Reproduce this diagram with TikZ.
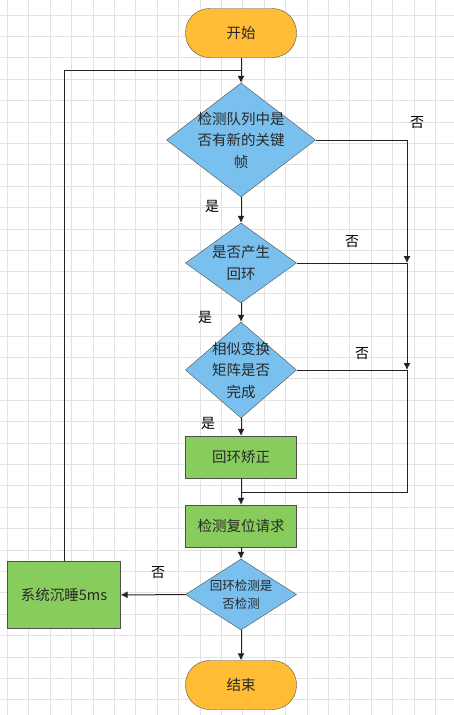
\documentclass[tikz,border=0pt]{standalone}
\usepackage{fontspec}
\setmainfont{Noto Sans CJK SC}
\usepackage{xcolor}
\usepackage{tikz}
\usetikzlibrary{positioning}
\usetikzlibrary{calc}
\usetikzlibrary{shapes.geometric}
\usetikzlibrary{arrows.meta}

\begin{document}
\begin{tikzpicture}
    [%%%%%%%%%%%%%%%%%%%%%%%%%%%%%%
        x=1pt, y=-1pt,
        gridline/.style={draw=gridgray, line width=0.8pt},
        terminal/.style={rectangle, rounded corners=24pt, draw=edgegray, fill=termorange, text=textdark, minimum width=111pt, minimum height=49pt, font=\fontsize{14.5pt}{17pt}\selectfont},
        decision/.style={diamond, draw=edgegray, fill=decblue, text=textdark, align=center, inner sep=0pt, font=\fontsize{14.5pt}{21.5pt}\selectfont},
        process/.style={rectangle, draw=edgegray, fill=procgreen, text=textdark, minimum width=111pt, minimum height=42pt, font=\fontsize{14.5pt}{17pt}\selectfont},
        flow/.style={draw=linedark, line width=1pt},
        arr/.style={flow, -{Latex[length=7pt,width=7pt]}},
        tag/.style={text=black, font=\fontsize{14pt}{17pt}\selectfont}
    ]%%%%%%%%%%%%%%%%%%%%%%%%%%%%%%
\definecolor{gridgray}{RGB}{226,226,226}
\definecolor{edgegray}{RGB}{80,80,80}
\definecolor{termorange}{RGB}{255,188,52}
\definecolor{decblue}{RGB}{122,192,238}
\definecolor{procgreen}{RGB}{137,204,94}
\definecolor{textdark}{RGB}{40,40,40}
\definecolor{linedark}{RGB}{34,34,34}

\fill[white] (0,0) rectangle (454,715);
\useasboundingbox (0,0) rectangle (454,715);
\foreach \i in {0,1,...,20}{
    \draw[gridline] ({7.3+21.4*\i},0) -- ++(0,715);
}
\foreach \j in {0,1,...,32}{
    \draw[gridline] (0,{15+21.4*\j}) -- ++(454,0);
}

\node[terminal] (start) at (241,33){开始};
\node[decision, minimum width=149pt, minimum height=114pt, aspect=1.31, inner sep=-3pt] (newkf) at (241,140){检测队列中是\\否有新的关键\\帧};
\node[decision, minimum width=111pt, minimum height=80pt, aspect=1.39] (loopq) at (241,263){是否产生\\回环};
\node[decision, minimum width=111pt, minimum height=96pt, aspect=1.16, inner sep=-4pt] (simq) at (241,370){相似变换\\矩阵是否\\完成};
\node[process] (fix) at (241,457){回环矫正};
\node[process] (reset) at (241,526){检测复位请求};
\node[decision, minimum width=111pt, minimum height=71pt, aspect=1.56, font=\fontsize{12.5pt}{18.5pt}\selectfont] (doneq) at (241,594.5){回环检测是\\否检测};
\node[process, minimum width=113pt, minimum height=67pt] (sleep) at (64,595){系统沉睡5ms};
\node[terminal] (stop) at (241,685){结束};

\coordinate (back) at (241,70);
\coordinate (r1) at (407,263);
\coordinate (r2) at (407,370);
\coordinate (merge) at (241,492);

\draw[arr] (start) -- (newkf);
\draw[flow] (sleep.north) |- (back);
\draw[arr] (newkf) -- (loopq);
\draw[arr] (loopq) -- (simq);
\draw[arr] (simq) -- (fix);
\draw[arr] (fix) -- (reset);
\draw[arr] (reset) -- (doneq);
\draw[arr] (doneq) -- (stop);
\draw[arr] (doneq) -- (sleep);

\draw[arr] (newkf.east) -| (r1);
\draw[flow] (loopq.east) -- (r1);
\draw[arr] (r1) -- (r2);
\draw[flow] (simq.east) -- (r2);
\draw[flow] (r2) |- (merge);

\node[tag] (y1) at (212,206){是};
\node[tag] (y2) at (205,317){是};
\node[tag] (y3) at (208,423){是};
\node[tag] (n1) at (417,123){否};
\node[tag] (n2) at (352,242){否};
\node[tag] (n3) at (362,354){否};
\node[tag] (n4) at (158,573){否};

\end{tikzpicture}
\end{document}
